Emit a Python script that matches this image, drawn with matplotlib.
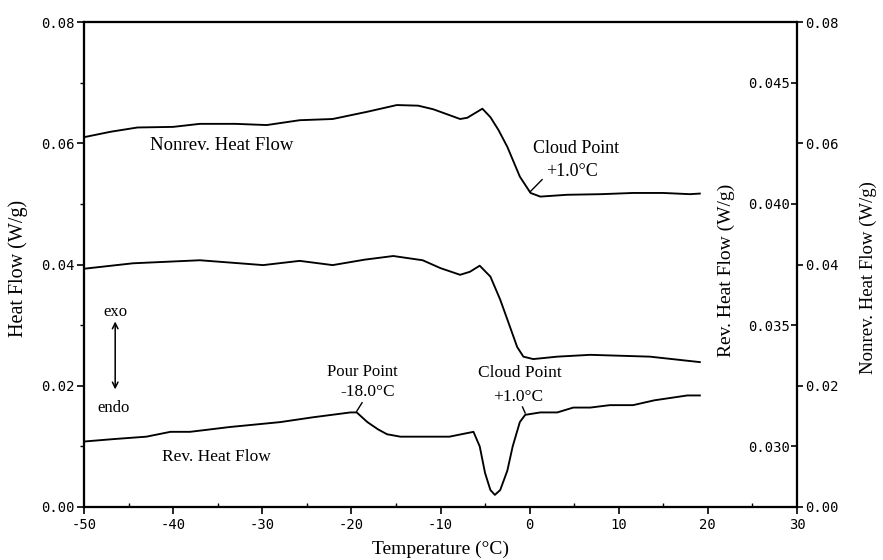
import matplotlib
matplotlib.use("Agg")
import matplotlib.pyplot as plt
from matplotlib.ticker import MultipleLocator, FixedLocator

# ---------------- data ----------------
temp_hf = [-50, -44.5, -37.0, -29.9, -25.8, -22.1, -18.5, -15.3, -12.0, -10.0,
           -7.8, -6.7, -5.6, -4.4, -3.3, -2.2, -1.4, -0.7, 0.4, 3.1, 6.8, 13.5, 19.1]
heat_flow = [0.0393, 0.0402, 0.0407, 0.0399, 0.0406, 0.0399, 0.0408, 0.0414, 0.0407, 0.0394,
             0.0383, 0.0388, 0.0398, 0.0380, 0.0342, 0.0297, 0.0264, 0.0248, 0.0244, 0.0248,
             0.0251, 0.0248, 0.0239]

temp_nr = [-50, -47, -44, -40, -37, -33, -29.5, -25.8, -22.1, -18.2, -14.9, -12.5, -10.8,
           -7.8, -7.0, -5.3, -4.4, -3.5, -2.5, -1.1, 0.1, 1.2, 4.2, 8, 11.6, 15, 18.0, 19.1]
nonrev_hf = [0.0610, 0.0619, 0.0626, 0.0627, 0.0632, 0.0632, 0.0630, 0.0638, 0.0640, 0.0652,
             0.0663, 0.0662, 0.0656, 0.0640, 0.0642, 0.0657, 0.0643, 0.0622, 0.0594, 0.0545,
             0.0518, 0.0512, 0.0515, 0.0516, 0.0518, 0.0518, 0.0516, 0.0517]

temp_rev = [-50, -46.7, -43, -40.3, -38.1, -33.6, -28.0, -24.3, -20.1, -19.4, -18.2, -17,
            -16.0, -14.5, -12.6, -9, -6.3, -5.6, -5.0, -4.4, -3.9, -3.3, -2.5, -1.9, -1.1,
            -0.5, 1.2, 3.1, 4.9, 6.8, 9, 11.6, 14, 17.7, 19.1]
rev_hf = [0.0302, 0.0303, 0.0304, 0.0306, 0.0306, 0.0308, 0.0310, 0.0312, 0.0314, 0.0314,
          0.0310, 0.0307, 0.0305, 0.0304, 0.0304, 0.0304, 0.0306, 0.0300, 0.0289, 0.0282,
          0.0280, 0.0282, 0.0290, 0.0300, 0.0310, 0.0313, 0.0314, 0.0314, 0.0316, 0.0316,
          0.0317, 0.0317, 0.0319, 0.0321, 0.0321]

x_ticks = [-50, -40, -30, -20, -10, 0, 10, 20, 30]
left_ticks = [0.00, 0.02, 0.04, 0.06, 0.08]
rev_ticks = [0.030, 0.035, 0.040, 0.045]
nonrev_ticks = [0.00, 0.02, 0.04, 0.06, 0.08]

# ---------------- figure ----------------
serif = "Liberation Serif"
mono = "DejaVu Sans Mono"
tfs = 10

fig = plt.figure(figsize=(8.83, 5.60), dpi=100)
ax = fig.add_axes([84 / 883, 1 - 507 / 560, (797 - 84) / 883, (507 - 22) / 560])
ax_rev = ax.twinx()
ax_nr = ax.twinx()

lc = "black"
lw = 1.35
ax.plot(temp_hf, heat_flow, color=lc, lw=lw)
ax_rev.plot(temp_rev, rev_hf, color=lc, lw=lw)
ax_nr.plot(temp_nr, nonrev_hf, color=lc, lw=lw)

ax.set_xlim(-50, 30)
ax.set_ylim(0, 0.08)
ax_rev.set_ylim(0.0275, 0.0475)
ax_nr.set_ylim(0, 0.08)

for a in (ax, ax_rev, ax_nr):
    for s in a.spines.values():
        s.set_linewidth(1.5)
        s.set_color("black")

# x axis
ax.xaxis.set_major_locator(FixedLocator(x_ticks))
ax.xaxis.set_minor_locator(MultipleLocator(5))
ax.set_xticklabels([f"{t:d}" for t in x_ticks], fontfamily=mono, fontsize=tfs)
ax.tick_params(axis="x", which="major", direction="out", length=5, width=1.2, pad=3)
ax.tick_params(axis="x", which="minor", direction="in", length=3, width=1.0)

# left axis
ax.yaxis.set_major_locator(FixedLocator(left_ticks))
ax.yaxis.set_minor_locator(MultipleLocator(0.01))
ax.set_yticklabels([f"{t:.2f}" for t in left_ticks], fontfamily=mono, fontsize=tfs)
ax.tick_params(axis="y", which="major", direction="out", length=5, width=1.2, pad=2)
ax.tick_params(axis="y", which="minor", direction="out", length=3, width=1.0)

# rev axis: labels just inside the right spine
ax_rev.yaxis.set_major_locator(FixedLocator(rev_ticks))
ax_rev.set_yticklabels([f"{t:.3f}" for t in rev_ticks], fontfamily=mono, fontsize=tfs)
ax_rev.tick_params(axis="y", which="major", direction="in", length=4, width=1.2, pad=-5)
for lbl in ax_rev.get_yticklabels():
    lbl.set_horizontalalignment("right")

# nonrev axis: labels outside right spine
ax_nr.yaxis.set_major_locator(FixedLocator(nonrev_ticks))
ax_nr.set_yticklabels([f"{t:.2f}" for t in nonrev_ticks], fontfamily=mono, fontsize=tfs)
ax_nr.tick_params(axis="y", which="major", direction="out", length=4, width=1.2, pad=2)

# axis labels
ax.set_xlabel("Temperature (°C)", fontfamily=serif, fontsize=14, labelpad=6)
fig.text(18 / 883, 1 - 268 / 560, "Heat Flow (W/g)", rotation=90, ha="center", va="center",
         fontfamily=serif, fontsize=14.5)
fig.text(726 / 883, 1 - 270 / 560, "Rev. Heat Flow (W/g)", rotation=90, ha="center", va="center",
         fontfamily=serif, fontsize=14)
fig.text(868 / 883, 1 - 278 / 560, "Nonrev. Heat Flow (W/g)", rotation=90, ha="center", va="center",
         fontfamily=serif, fontsize=13.5)

# annotations (in left-axis data coordinates)
tkw = dict(fontfamily=serif, ha="center", va="center", color="black")
ax.text(-34.5, 0.0597, "Nonrev. Heat Flow", fontsize=13.5, **tkw)
ax.text(5.2, 0.0592, "Cloud Point", fontsize=13, **tkw)
ax.text(4.8, 0.0553, "+1.0°C", fontsize=13, **tkw)
ax.plot([0.06, 1.4], [0.0520, 0.0540], color=lc, lw=1.0)

ax.text(-18.8, 0.0223, "Pour Point", fontsize=12, **tkw)
ax.text(-18.2, 0.0190, "-18.0°C", fontsize=12.5, **tkw)
ax.plot([-19.4, -18.8], [0.0158, 0.0172], color=lc, lw=1.0)

ax.text(-1.1, 0.0221, "Cloud Point", fontsize=12.5, **tkw)
ax.text(-1.3, 0.0182, "+1.0°C", fontsize=12.5, **tkw)
ax.plot([-0.8, -0.5], [0.0165, 0.0155], color=lc, lw=1.0)

ax.text(-35.2, 0.0083, "Rev. Heat Flow", fontsize=12.5, **tkw)

# exo / endo arrow
ax.text(-46.5, 0.0322, "exo", fontsize=12, **tkw)
ax.text(-46.7, 0.0163, "endo", fontsize=12, **tkw)
ax.annotate("", xy=(-46.5, 0.0306), xytext=(-46.5, 0.0194),
            arrowprops=dict(arrowstyle="<->", color=lc, lw=1.1, shrinkA=0, shrinkB=0))

fig.savefig("out.png", dpi=100)
